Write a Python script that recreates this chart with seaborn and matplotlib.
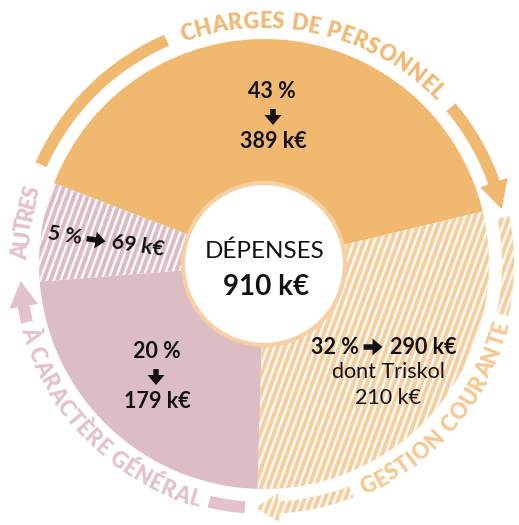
import numpy as np
import matplotlib
matplotlib.use("Agg")
import matplotlib.pyplot as plt
import seaborn as sns
from matplotlib.patches import Polygon, Circle, FancyArrow
from matplotlib.collections import LineCollection
from matplotlib.font_manager import FontProperties
from matplotlib.textpath import TextToPath

# data
categories = ["CHARGES DE PERSONNEL", "AUTRES", "À CARACTÈRE GÉNÉRAL", "GESTION COURANTE"]
percents = [43, 5, 20, 32]
amounts = [389, 69, 179, 290]
# slice sizes as they are drawn in the picture (share of the circle, %)
drawn_share = [40.4, 7.1, 23.3, 29.2]
total = 910
triskol = 210

colors = ["#F1B870", "#DDBDC4", "#DDBDC4", "#F7CE9E"]
hatched = [False, True, False, True]
ring_colors = ["#F1B870", "#E2C3C9", "#E2C3C9", "#F7CE9E"]
text_colors = ["#F2B974", "#E2C3C9", "#E2C3C9", "#F6C992"]
INK = "#111111"

sns.set_theme(style="white")
plt.rcParams["font.family"] = ["Lato", "DejaVu Sans"]

W, H = 519, 525
CX, CY = 264, H - 264
R_PIE = 225
R_RING = 244
BAND = 12
PX = 100 / 72

fig = plt.figure(figsize=(W / 100, H / 100), dpi=100)
ax = fig.add_axes([0, 0, 1, 1])

wedges, _ = ax.pie(drawn_share, colors=colors, startangle=13.5, counterclock=True,
                   radius=R_PIE, center=(CX, CY), wedgeprops=dict(linewidth=0))
ax.set_xlim(0, W)
ax.set_ylim(0, H)
ax.axis("off")


def stripes(patch, step=6.4, angle=70, lw=1.65):
    d = np.array([np.cos(np.radians(angle)), np.sin(np.radians(angle))])
    n = np.array([-d[1], d[0]])
    segs = []
    for t in np.arange(-800, 800, step):
        p = np.array([CX, CY]) + n * t
        segs.append([p - d * 800, p + d * 800])
    lc = LineCollection(segs, colors="white", linewidths=lw, zorder=patch.get_zorder() + 0.1)
    ax.add_collection(lc)
    lc.set_clip_path(patch)


for w, h in zip(wedges, hatched):
    if h:
        stripes(w)


def pol(a, r):
    a = np.radians(a)
    return [CX + r * np.cos(a), CY + r * np.sin(a)]


def band(a0, a1, color, head=None, hatch=False):
    # ring segment from a0 to a1 (degrees), optional arrow head ending at angle `head`
    r_in, r_out = R_RING - BAND / 2, R_RING + BAND / 2
    angs = np.linspace(a0, a1, 40)
    pts = [pol(a, r_out) for a in angs]
    if head is not None:
        pts += [pol(a1, R_RING + 14.5), pol(head, R_RING), pol(a1, R_RING - 14.5)]
    pts += [pol(a, r_in) for a in angs[::-1]]
    p = Polygon(pts, closed=True, fc=color, ec="none", zorder=2)
    ax.add_patch(p)
    if hatch:
        stripes(p)


ttp = TextToPath()


def adv(ch, fp):
    w1 = ttp.get_text_width_height_descent("H" + ch + "H", fp, ismath=False)[0]
    w0 = ttp.get_text_width_height_descent("HH", fp, ismath=False)[0]
    return (w1 - w0) * PX


def curved_text(s, a0, a1, color, outward=True, size=15.5):
    fp = FontProperties(family="Lato", weight="heavy", size=size)
    ws = [adv(ch, fp) for ch in s]
    arc = np.radians(abs(a1 - a0)) * R_RING
    track = (arc - sum(ws)) / (len(s) - 1)
    sign = np.sign(a1 - a0)
    cap = 0.72 * size * PX
    rb = R_RING - cap / 2 if outward else R_RING + cap / 2
    pos = 0
    for ch, w in zip(s, ws):
        th = a0 + sign * np.degrees((pos + w / 2) / R_RING)
        x, y = pol(th, rb)
        rot = th - 90 if outward else th + 90
        ax.text(x, y, ch, rotation=rot, rotation_mode="anchor", ha="center", va="baseline",
                fontproperties=fp, color=color, zorder=6)
        pos += w + track


def arrow(x, y, ang, length=17):
    # heavy black arrow centred on (x, y), pointing towards angle `ang`
    u = np.array([np.cos(np.radians(ang)), np.sin(np.radians(ang))])
    x0, y0 = np.array([x, y]) - u * length / 2
    ax.add_patch(FancyArrow(x0, y0, *(u * length), width=5.5, head_width=17, head_length=10,
                            length_includes_head=True, fc=INK, ec="none", zorder=6))


# outer ring: arrows + curved labels
band(156, 113.5, ring_colors[0])
curved_text(categories[0], 110, 43.5, text_colors[0], outward=True)
band(40, 19.5, ring_colors[0], head=13)

band(11, -12, ring_colors[3], hatch=True)
curved_text(categories[3], 293.5, 346.5, text_colors[3], outward=False)
band(291, 273.5, ring_colors[3], head=268, hatch=True)

band(265.5, 257, ring_colors[2])
curved_text(categories[2], 195, 255, text_colors[2], outward=False)
band(193.8, 190, ring_colors[2], head=184)

curved_text(categories[1], 179, 161.5, text_colors[1], outward=True)

# hole
ax.add_patch(Circle((CX, CY), 81, fc="white", ec="#F6CFA2", lw=3, zorder=5))
ax.text(CX + 1, H - 251, "DÉPENSES", ha="center", va="center", fontsize=17.5, color=INK, zorder=6)
ax.text(CX + 2, H - 287, f"{total} k€", ha="center", va="center", fontsize=20,
        fontweight="bold", color=INK, zorder=6)

# slice labels
bold = dict(va="center", fontweight="bold", color=INK, zorder=6)

ax.text(272, H - 91, f"{percents[0]} %", ha="center", fontsize=15.5, **bold)
arrow(273, H - 117, -90, 16)
ax.text(273, H - 141, f"{amounts[0]} k€", ha="center", fontsize=15.5, **bold)

ax.text(157, H - 351, f"{percents[2]} %", ha="center", fontsize=15.5, **bold)
arrow(156, H - 377, -90, 16)
ax.text(157, H - 402, f"{amounts[2]} k€", ha="center", fontsize=15.5, **bold)

ax.text(359, H - 347, f"{percents[3]} %", ha="right", fontsize=15.5, **bold)
arrow(373, H - 347, 0, 19)
ax.text(390, H - 347, f"{amounts[3]} k€", ha="left", fontsize=15.5, **bold)
ax.text(388, H - 372, "dont Triskol", ha="center", va="center", fontsize=15.5, color=INK, zorder=6)
ax.text(388, H - 398, f"{triskol} k€", ha="center", va="center", fontsize=15.5, color=INK, zorder=6)

# small slice: pieces laid along a slightly tilted baseline
rot = -8.5
u = np.array([np.cos(np.radians(rot)), np.sin(np.radians(rot))])
c = np.array([96, H - 240])
for off, txt, ha in [(-14, f"{percents[1]} %", "right"), (16, f"{amounts[1]} k€", "left")]:
    px, py = c + u * off
    ax.text(px, py, txt, ha=ha, rotation=rot, rotation_mode="anchor", fontsize=15, **bold)
arrow(c[0], c[1], rot, 19)

fig.savefig("out.png", dpi=100)
